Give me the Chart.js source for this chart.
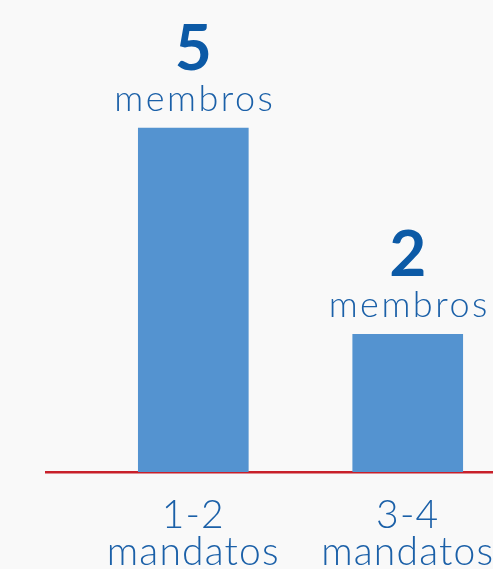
<!DOCTYPE html>
<html>
<head>
<meta charset="utf-8">
<script src="https://cdn.jsdelivr.net/npm/chart.js@4.4.1/dist/chart.umd.min.js"></script>
<style>
  html, body { margin: 0; padding: 0; background: #f9f9f9; overflow: hidden; }
  #wrap { position: relative; width: 620px; height: 596px; }
</style>
</head>
<body>
<div id="wrap"><canvas id="myChart"></canvas></div>
<script>
// data
const categories = [['1-2', 'mandatos'], ['3-4', 'mandatos']];
const members = [5, 2];
const unitLabel = 'membros';

const FONT = "Lato, 'Open Sans', sans-serif";

// writes "5 / membros" on top of each bar
const barTopLabels = {
  id: 'barTopLabels',
  beforeDraw(chart) {
    // a bit of tracking for the axis labels, the original font is wider
    chart.ctx.letterSpacing = '1.2px';
  },
  afterDatasetsDraw(chart) {
    const ctx = chart.ctx;
    const meta = chart.getDatasetMeta(0);
    ctx.save();
    ctx.textAlign = 'center';
    ctx.textBaseline = 'alphabetic';
    meta.data.forEach((bar, i) => {
      ctx.fillStyle = '#0c5aa6';
      ctx.letterSpacing = '0px';
      ctx.font = 'bold 64px ' + FONT;
      ctx.fillText(String(members[i]), bar.x, bar.y - 58);
      ctx.fillStyle = '#1b60a8';
      ctx.font = '300 36px ' + FONT;
      ctx.letterSpacing = '2.5px';
      ctx.fillText(unitLabel, bar.x + 1.5, bar.y - 17);
    });
    ctx.restore();
  },
  afterDraw(chart) {
    chart.ctx.letterSpacing = '0px';
  }
};

const ctx = document.getElementById('myChart');
new Chart(ctx, {
  type: 'bar',
  data: {
    datasets: [{
      data: members.map((v, i) => ({ x: i, y: v })),
      backgroundColor: '#5493d0',
      borderWidth: 0,
      barThickness: 110
    }]
  },
  options: {
    responsive: true,
    maintainAspectRatio: false,
    animation: false,
    layout: { padding: { left: 46, top: 25, right: 0, bottom: 0 } },
    plugins: {
      legend: { display: false },
      tooltip: { enabled: false }
    },
    scales: {
      x: {
        type: 'linear',
        offset: false,
        min: -0.687,
        max: 1.99,
        afterBuildTicks(scale) {
          scale.ticks = categories.map((c, i) => ({ value: i }));
        },
        grid: { display: false, drawTicks: false },
        border: { display: true, color: '#c8202a', width: 2.5 },
        ticks: {
          padding: 25,
          color: '#1b60a8',
          font: { family: FONT, size: 39, weight: 300, lineHeight: 0.95 },
          maxRotation: 0,
          autoSkip: false,
          callback: (v) => categories[v]
        }
      },
      y: {
        display: false,
        min: 0,
        max: 6.5
      }
    }
  },
  plugins: [barTopLabels]
});
</script>
</body>
</html>
